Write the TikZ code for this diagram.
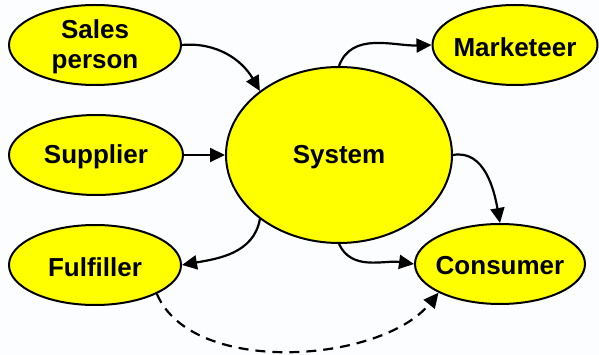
\documentclass[tikz,border=0pt]{standalone}
\usepackage{fontspec}
\setmainfont{Liberation Sans}
\usetikzlibrary{shapes.geometric,arrows.meta}
\definecolor{bgc}{RGB}{252,253,255}
\definecolor{ell}{RGB}{255,255,0}
\begin{document}
\begin{tikzpicture}[x=1pt,y=1pt,
  actor/.style={ellipse,draw=black,line width=2pt,fill=ell,inner sep=0pt},
  actortext/.style={font=\fontsize{26}{30}\selectfont\bfseries,align=center,inner sep=0pt,yshift=-2pt},
  link/.style={line width=2.2pt,-{Triangle[length=15pt,width=14pt]}},
  dlink/.style={link,dash pattern=on 10pt off 7pt}]
\fill[bgc] (0,0) rectangle (599,-355);
\useasboundingbox (0,0) rectangle (599,-355);
\node[actor,minimum width=172pt,minimum height=80pt,label={[actortext]center:{Sales\\person}}] (sp) at (95,-45) {};
\node[actor,minimum width=174pt,minimum height=80pt,label={[actortext]center:Supplier}] (sup) at (96,-155) {};
\node[actor,minimum width=172pt,minimum height=80pt,label={[actortext]center:Fulfiller}] (ful) at (95,-265) {};
\node[actor,minimum width=226pt,minimum height=176pt,label={[actortext]center:System}] (sys) at (339,-155) {};
\node[actor,minimum width=165pt,minimum height=80pt,label={[actortext]center:Marketeer}] (mkt) at (515,-45) {};
\node[actor,minimum width=170pt,minimum height=80pt,label={[actortext]center:Consumer}] (con) at (500,-264) {};
\draw[link] (sp.east) to[out=5,in=120] (sys.141);
\draw[link] (sup.east) -- (sys.west);
\draw[link] (sys.north) to[out=70,in=182] (mkt.west);
\draw[link] (sys.east) to[out=10,in=100] (con.north);
\draw[link] (sys.south) to[out=-65,in=172] (con.west);
\draw[link] (sys.219.5) to[out=-100,in=10] (ful.east);
\draw[dlink] (ful.-25) to[out=-67,in=-129,looseness=0.82] (con.205);
\end{tikzpicture}
\end{document}
